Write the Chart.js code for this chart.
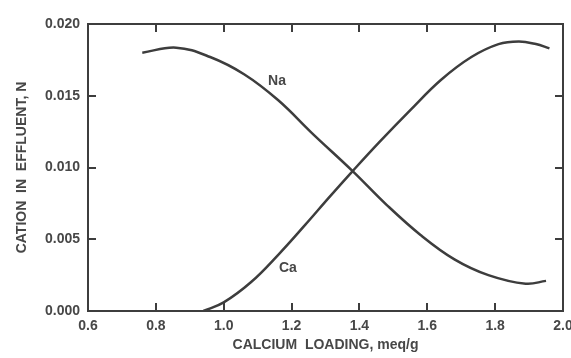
<!DOCTYPE html>
<html>
<head>
<meta charset="utf-8">
<script src="https://cdn.jsdelivr.net/npm/chart.js@4.4.1/dist/chart.umd.min.js"></script>
<style>
  html, body { margin: 0; padding: 0; background: #fff; }
  #wrap { width: 571px; height: 358px; }
</style>
</head>
<body>
<div id="wrap"><canvas id="effluent_canvas"></canvas></div>
<script>
// calcium loading (meq/g) vs cation concentration in effluent (N)
var naLoading = [0.76, 0.86, 0.96, 1.06, 1.16, 1.26, 1.38, 1.48, 1.58, 1.68, 1.78, 1.89, 1.95];
var naConc    = [0.0180, 0.01835, 0.0177, 0.0165, 0.0147, 0.0124, 0.00975, 0.0074, 0.0053, 0.0036, 0.0025, 0.0019, 0.0021];

var caLoading = [0.94, 1.00, 1.08, 1.16, 1.24, 1.31, 1.38, 1.46, 1.55, 1.64, 1.73, 1.81, 1.87, 1.92, 1.96];
var caConc    = [0.0, 0.0006, 0.0020, 0.0039, 0.0060, 0.0079, 0.00975, 0.0118, 0.0140, 0.0161, 0.0177, 0.0186, 0.01878, 0.0186, 0.0183];

var xTicks = [0.6, 0.8, 1.0, 1.2, 1.4, 1.6, 1.8, 2.0];
var yTicks = [0.000, 0.005, 0.010, 0.015, 0.020];

// where the curve names sit (data coords)
var curveLabels = [
  { text: 'Na', x: 1.157, y: 0.0160 },
  { text: 'Ca', x: 1.189, y: 0.0030 }
];

var ink = '#3d3d3d';
var textInk = '#474747';
var fontFam = '"Liberation Sans", Arial, Helvetica, sans-serif';

function toPoints(xs, ys) {
  var pts = [];
  for (var i = 0; i < xs.length; i++) {
    pts.push({ x: xs[i], y: ys[i] });
  }
  return pts;
}

// box round the plot with ticks pointing inward on all four sides
var framePlugin = {
  id: 'frame',
  afterDatasetsDraw: function(chart) {
    var ctx = chart.ctx;
    var a = chart.chartArea;
    var xs = chart.scales.x, ys = chart.scales.y;
    var len = 8;
    ctx.save();
    ctx.strokeStyle = ink;
    ctx.lineWidth = 2;
    ctx.strokeRect(a.left, a.top, a.right - a.left, a.bottom - a.top);
    ctx.beginPath();
    for (var i = 1; i < xTicks.length - 1; i++) {
      var px = Math.round(xs.getPixelForValue(xTicks[i]));
      ctx.moveTo(px, a.bottom); ctx.lineTo(px, a.bottom - len);
      ctx.moveTo(px, a.top); ctx.lineTo(px, a.top + len);
    }
    for (var j = 1; j < yTicks.length - 1; j++) {
      var py = Math.round(ys.getPixelForValue(yTicks[j]));
      ctx.moveTo(a.left, py); ctx.lineTo(a.left + len, py);
      ctx.moveTo(a.right, py); ctx.lineTo(a.right - len, py);
    }
    ctx.stroke();

    ctx.fillStyle = textInk;
    ctx.font = 'bold 14px ' + fontFam;
    ctx.textAlign = 'center';
    ctx.textBaseline = 'middle';
    curveLabels.forEach(function(l) {
      ctx.fillText(l.text, xs.getPixelForValue(l.x), ys.getPixelForValue(l.y));
    });
    ctx.restore();
  }
};

var chartdata = {
  datasets: [
    {
      label: 'Na',
      data: toPoints(naLoading, naConc),
      borderColor: ink,
      borderWidth: 2.5,
      pointRadius: 0,
      fill: false,
      tension: 0.4
    },
    {
      label: 'Ca',
      data: toPoints(caLoading, caConc),
      borderColor: ink,
      borderWidth: 2.5,
      pointRadius: 0,
      fill: false,
      tension: 0.4
    }
  ]
};

var options = {
  responsive: true,
  maintainAspectRatio: false,
  animation: false,
  layout: { padding: { left: 10, top: 24, right: 8, bottom: 0 } },
  plugins: {
    legend: { display: false },
    tooltip: { enabled: false }
  },
  scales: {
    x: {
      type: 'linear',
      min: 0.6,
      max: 2.0,
      afterBuildTicks: function(scale) {
        scale.ticks = xTicks.map(function(v) { return { value: v }; });
      },
      afterFit: function(scale) {
        scale.height = 47;
        scale.paddingLeft = 0;
        scale.paddingRight = 0;
      },
      grid: { display: false, drawTicks: false },
      border: { display: false },
      ticks: {
        padding: 7,
        maxRotation: 0,
        color: textInk,
        font: { family: fontFam, size: 14, weight: 'bold' },
        callback: function(v) { return v.toFixed(1); }
      },
      title: {
        display: true,
        text: 'CALCIUM  LOADING, meq/g',
        color: textInk,
        font: { family: fontFam, size: 14, weight: 'bold' }
      }
    },
    y: {
      type: 'linear',
      min: 0,
      max: 0.02,
      afterBuildTicks: function(scale) {
        scale.ticks = yTicks.map(function(v) { return { value: v }; });
      },
      afterFit: function(scale) {
        scale.width = 78;
      },
      grid: { display: false, drawTicks: false },
      border: { display: false },
      ticks: {
        padding: 8,
        color: textInk,
        font: { family: fontFam, size: 14, weight: 'bold' },
        callback: function(v) { return v.toFixed(3); }
      },
      title: {
        display: true,
        text: 'CATION  IN  EFFLUENT, N',
        color: textInk,
        font: { family: fontFam, size: 14, weight: 'bold' }
      }
    }
  }
};

var ctx = document.getElementById('effluent_canvas');
var chart = new Chart(ctx, {
  type: 'line',
  data: chartdata,
  options: options,
  plugins: [framePlugin]
});
</script>
</body>
</html>
